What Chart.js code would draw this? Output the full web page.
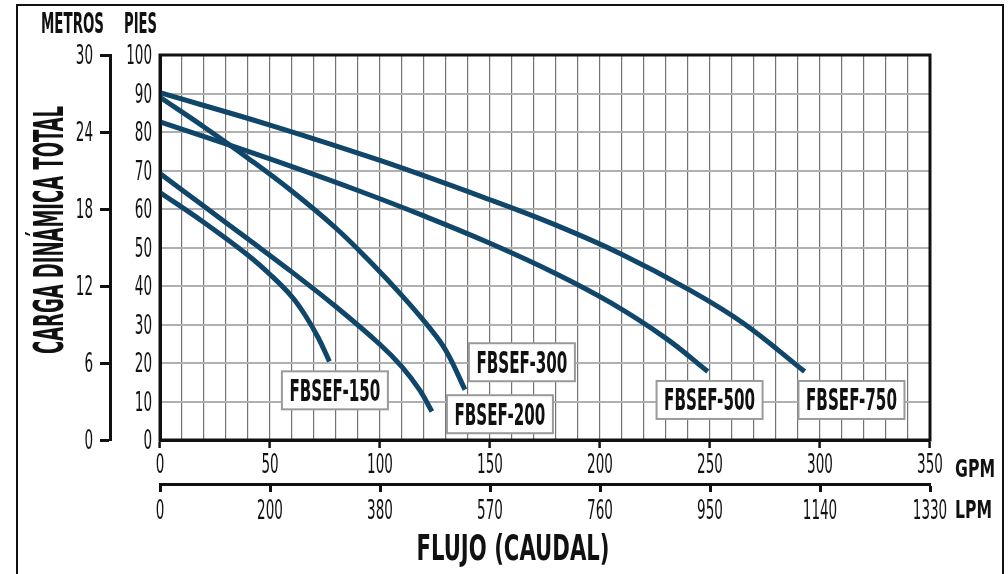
<!DOCTYPE html>
<html lang="es">
<head>
    <meta charset="UTF-8">
    <title>Curvas FBSEF</title>
    <script src="https://cdn.jsdelivr.net/npm/chart.js"></script>
    <style>
        html, body { margin: 0; padding: 0; background: #fff; }
        .chart-box { position: relative; width: 1008px; height: 574px; }
    </style>
</head>
<body>
    <div class="chart-box">
        <canvas id="curvas"></canvas>
    </div>
    <script>
        const gpm150 = [0, 20, 40, 50, 60, 66, 72, 77];
        const ft150 = [64.3, 56.5, 48, 43, 37.2, 32.4, 26.5, 20.4];
        const gpm200 = [0, 20, 40, 60, 80, 100, 110, 118, 123.6];
        const ft200 = [69.2, 60.7, 52.2, 43.6, 34.6, 24.8, 19.0, 13.0, 7.4];
        const gpm300 = [0, 20, 40, 60, 80, 95, 110, 122, 130, 138.6];
        const ft300 = [89, 81.3, 73.2, 64.6, 55, 46.6, 37.5, 29.5, 23.2, 13.1];
        const gpm500 = [0, 30, 60, 90, 120, 150, 180, 205, 230, 249];
        const ft500 = [82.6, 76.9, 71.0, 64.8, 58.2, 51.1, 43.2, 35.6, 26.4, 17.8];
        const gpm750 = [0, 50, 100, 150, 180, 210, 240, 265, 293];
        const ft750 = [90.2, 81.8, 72.6, 62.4, 55.8, 48.2, 39.2, 30.4, 17.8];

        const modelos = ['FBSEF-150', 'FBSEF-200', 'FBSEF-300', 'FBSEF-500', 'FBSEF-750'];
        const gpmTicks = [0, 50, 100, 150, 200, 250, 300, 350];
        const lpmLabels = ['0', '200', '380', '570', '760', '950', '1140', '1330'];

        // donde va la etiqueta de cada modelo (GPM, pies)
        const labelGpm = [79.5, 154.5, 164.5, 249.8, 314.3];
        const labelFt = [12.9, 6.7, 20.2, 10.4, 10.4];

        const series = [[gpm150, ft150], [gpm200, ft200], [gpm300, ft300], [gpm500, ft500], [gpm750, ft750]];
        const azul = '#0f4669';
        const narrow = "'Liberation Sans Narrow', 'DejaVu Sans Condensed', 'Arial Narrow', sans-serif";
        const hidden = 'rgba(0,0,0,0)';

        const datasets = series.map((s, i) => ({
            label: modelos[i],
            data: s[0].map((g, j) => ({ x: g, y: s[1][j] })),
            borderColor: azul,
            borderWidth: 5,
            borderCapStyle: 'butt',
            pointRadius: 0,
            tension: 0.4,
            fill: false
        }));

        function txt(ctx, s, x, y, size, maxW, align, weight) {
            ctx.font = (weight || 'bold') + ' ' + size + 'px ' + narrow;
            ctx.textAlign = align || 'left';
            ctx.fillText(String(s), x, y, maxW);
        }

        // numeros de los ejes, estrechos como en el original
        function tickText(ctx, scale, fn) {
            scale.ticks.forEach(t => {
                const lbl = String(t.label);
                if (lbl === '') return;
                fn(lbl, scale.getPixelForValue(t.value), lbl.length * 8.6);
            });
        }

        const adornos = {
            id: 'adornos',
            afterDatasetsDraw(chart) {
                const ctx = chart.ctx;
                const xs = chart.scales.x, ys = chart.scales.y;
                ctx.save();
                modelos.forEach((m, i) => {
                    const cx = xs.getPixelForValue(labelGpm[i]);
                    const cy = ys.getPixelForValue(labelFt[i]);
                    ctx.fillStyle = '#fff';
                    ctx.fillRect(cx - 53, cy - 19, 106, 38);
                    ctx.strokeStyle = '#9a9a9a';
                    ctx.lineWidth = 2;
                    ctx.strokeRect(cx - 53, cy - 19, 106, 38);
                    ctx.fillStyle = '#111';
                    ctx.textBaseline = 'alphabetic';
                    txt(ctx, m, cx, cy + 10.5, 30, 91, 'center');
                });
                ctx.restore();
            },
            afterDraw(chart) {
                const ctx = chart.ctx;
                const a = chart.chartArea;
                const sc = chart.scales;
                ctx.save();
                ctx.strokeStyle = '#111';
                ctx.lineWidth = 3;
                ctx.strokeRect(a.left, a.top, a.right - a.left, a.bottom - a.top);
                ctx.lineWidth = 2;
                ctx.strokeRect(17, 5, 986, 620);

                ctx.fillStyle = '#111';
                ctx.textBaseline = 'alphabetic';
                tickText(ctx, sc.x, (l, p, w) => txt(ctx, l, p, 473, 26, w, 'center', 'normal'));
                tickText(ctx, sc.x2, (l, p, w) => txt(ctx, l, p, 519, 26, w, 'center', 'normal'));
                tickText(ctx, sc.y, (l, p, w) => txt(ctx, l, 152, p + 9, 26, w, 'right', 'normal'));
                tickText(ctx, sc.ym, (l, p, w) => txt(ctx, l, 93, p + 9, 26, w, 'right', 'normal'));

                txt(ctx, 'METROS', 41, 33, 28, 63);
                txt(ctx, 'PIES', 124, 33, 28, 33);
                txt(ctx, 'GPM', 955, 477, 25, 40);
                txt(ctx, 'LPM', 955, 518, 25, 37);
                txt(ctx, 'FLUJO (CAUDAL)', 513, 560, 35, 193, 'center');

                ctx.translate(63, 230);
                ctx.rotate(-Math.PI / 2);
                txt(ctx, 'CARGA DINÁMICA TOTAL', 0, 0, 40, 248, 'center');
                ctx.restore();
            }
        };

        new Chart(document.getElementById('curvas'), {
            type: 'line',
            data: { datasets: datasets },
            options: {
                responsive: true,
                maintainAspectRatio: false,
                animation: false,
                layout: { padding: { left: 20, right: 78, top: 55, bottom: 0 } },
                plugins: {
                    legend: { display: false },
                    tooltip: { enabled: false }
                },
                scales: {
                    x: {
                        type: 'linear',
                        position: 'bottom',
                        min: 0,
                        max: 350,
                        afterFit: s => { s.height = 44; },
                        ticks: {
                            stepSize: 10,
                            autoSkip: false,
                            maxRotation: 0,
                            color: hidden,
                            callback: v => (v % 50 === 0 ? v : '')
                        },
                        grid: {
                            color: '#737373',
                            lineWidth: 1.2,
                            tickLength: 8,
                            tickWidth: 2.5,
                            tickColor: c => (c.tick && c.tick.value % 50 === 0 ? '#111' : hidden)
                        },
                        border: { color: '#111', width: 3 }
                    },
                    x2: {
                        type: 'linear',
                        position: 'bottom',
                        min: 0,
                        max: 350,
                        afterFit: s => { s.height = 90; },
                        afterBuildTicks: s => { s.ticks = gpmTicks.map(v => ({ value: v })); },
                        ticks: {
                            autoSkip: false,
                            maxRotation: 0,
                            color: hidden,
                            callback: (v, i) => lpmLabels[i]
                        },
                        grid: {
                            drawOnChartArea: false,
                            tickLength: 8,
                            tickWidth: 3,
                            tickColor: '#111'
                        },
                        border: { color: '#111', width: 3 }
                    },
                    y: {
                        type: 'linear',
                        position: 'left',
                        min: 0,
                        max: 100,
                        afterFit: s => { s.width = 50; },
                        ticks: { stepSize: 10, color: hidden },
                        grid: {
                            color: '#b0b0b0',
                            lineWidth: 2,
                            drawTicks: false
                        },
                        border: { color: '#111', width: 3 }
                    },
                    ym: {
                        type: 'linear',
                        position: 'left',
                        min: 0,
                        max: 30,
                        afterFit: s => { s.width = 90; },
                        ticks: { stepSize: 6, color: hidden },
                        grid: {
                            drawOnChartArea: false,
                            tickLength: 10,
                            tickWidth: 3,
                            tickColor: '#111'
                        },
                        border: { color: '#111', width: 3 }
                    }
                }
            },
            plugins: [adornos]
        });
    </script>
</body>
</html>
